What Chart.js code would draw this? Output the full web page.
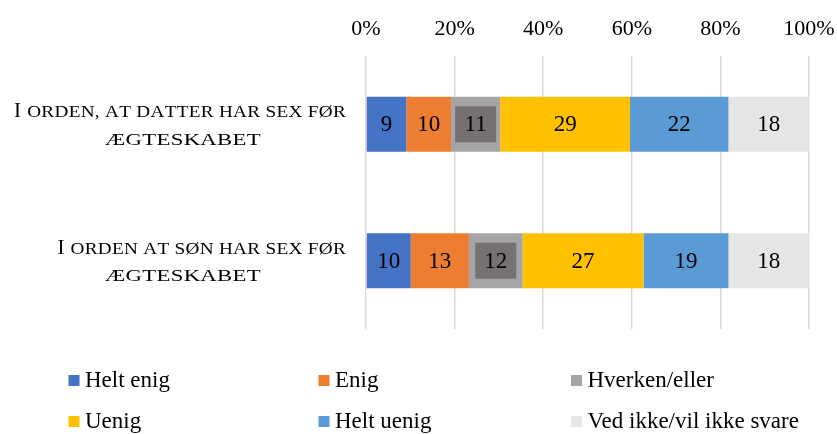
<!DOCTYPE html>
<html>
<head>
<meta charset="utf-8">
<script src="https://cdn.jsdelivr.net/npm/chart.js@4/dist/chart.umd.min.js"></script>
<style>
html,body{margin:0;padding:0;background:#fff;}
#wrap{width:837px;height:434px;}
</style>
</head>
<body>
<div id="wrap"><canvas id="c" width="837" height="434"></canvas></div>
<script>
const categories = [
  ["I orden, at datter har sex før", "ægteskabet"],
  ["I orden at søn har sex før", "ægteskabet"]
];
const seriesNames = ["Helt enig", "Enig", "Hverken/eller", "Uenig", "Helt uenig", "Ved ikke/vil ikke svare"];
const helt_enig   = [9, 10];
const enig        = [10, 13];
const hverken     = [11, 12];
const uenig       = [29, 27];
const helt_uenig  = [22, 19];
const ved_ikke    = [18, 18];
const tickLabels  = ["0%", "20%", "40%", "60%", "80%", "100%"];

const colors = ["#4472C4", "#ED7D31", "#A5A5A5", "#FFC000", "#5B9BD5", "#E7E6E6"];
const raw = [helt_enig, enig, hverken, uenig, helt_uenig, ved_ikke];
const totals = categories.map((_, i) => raw.reduce((s, a) => s + a[i], 0));

const FONT = "'Liberation Serif', 'Times New Roman', serif";

const datasets = raw.map((arr, k) => ({
  label: seriesNames[k],
  data: arr.map((v, i) => v / totals[i] * 100),
  rawValues: arr,
  backgroundColor: colors[k],
  borderWidth: 0,
  categoryPercentage: 1,
  barPercentage: 0.403,
  labelBox: k === 2 ? "#767171" : null
}));

// Synthetic small caps (lowercase drawn as smaller, slightly widened capitals)
function smallCapsRuns(ctx, text, big, small, sx) {
  const runs = [];
  let w = 0;
  for (const ch of text) {
    const isUpper = ch !== ch.toLowerCase() && ch === ch.toUpperCase();
    const size = isUpper ? big : small;
    const g = isUpper ? ch : ch.toUpperCase();
    const scale = isUpper ? 1 : sx;
    ctx.font = size + "px " + FONT;
    const cw = ctx.measureText(g).width * scale;
    runs.push({ g, size, x: w, scale });
    w += cw + (isUpper ? 1 : 0.3);
  }
  return { runs, width: w };
}
function drawSmallCaps(ctx, text, xAnchor, align, baseY, big, small, sx) {
  const { runs, width } = smallCapsRuns(ctx, text, big, small, sx);
  const x0 = align === 'right' ? xAnchor - width : align === 'center' ? xAnchor - width / 2 : xAnchor;
  ctx.textAlign = 'left';
  ctx.textBaseline = 'alphabetic';
  for (const r of runs) {
    ctx.save();
    ctx.font = r.size + "px " + FONT;
    ctx.translate(x0 + r.x, baseY);
    ctx.scale(r.scale, 1);
    ctx.fillText(r.g, 0, 0);
    ctx.restore();
  }
}

const yLabels = {
  id: 'yLabels',
  afterDraw(chart) {
    const ctx = chart.ctx;
    const ys = chart.scales.y;
    ctx.save();
    ctx.fillStyle = '#000';
    chart.data.labels.forEach((lab, i) => {
      const cy = ys.getPixelForTick(i);
      drawSmallCaps(ctx, lab[0], 346, 'right', cy - 7, 21, 16, 1.2);
      drawSmallCaps(ctx, lab[1], 183, 'center', cy + 20.5, 21, 17.5, 1.3);
    });
    ctx.restore();
  }
};

const barLabels = {
  id: 'barLabels',
  afterDatasetsDraw(chart) {
    const ctx = chart.ctx;
    ctx.save();
    ctx.font = "23px " + FONT;
    ctx.textAlign = 'center';
    ctx.textBaseline = 'middle';
    chart.data.datasets.forEach((ds, di) => {
      const meta = chart.getDatasetMeta(di);
      meta.data.forEach((el, i) => {
        const cx = (el.x + el.base) / 2;
        const cy = el.y;
        if (ds.labelBox) {
          ctx.fillStyle = ds.labelBox;
          ctx.fillRect(cx - 20.5, cy - 18, 41, 36);
        }
        ctx.fillStyle = '#000';
        ctx.fillText(String(ds.rawValues[i]), cx, cy + 1);
      });
    });
    ctx.restore();
  }
};

const gridLegend = {
  id: 'gridLegend',
  afterDraw(chart) {
    const ctx = chart.ctx;
    ctx.save();
    ctx.font = "23px " + FONT;
    ctx.textAlign = 'left';
    ctx.textBaseline = 'middle';
    const colX = [68.5, 318.5, 571];
    const rowY = [380.5, 421.5];
    chart.data.datasets.forEach((ds, i) => {
      const x = colX[i % 3], y = rowY[Math.floor(i / 3)];
      ctx.fillStyle = ds.backgroundColor;
      ctx.fillRect(x, y - 5.5, 11, 11);
      ctx.fillStyle = '#000';
      ctx.fillText(ds.label, x + 16.5, y);
    });
    ctx.restore();
  }
};

new Chart(document.getElementById('c'), {
  type: 'bar',
  data: { labels: categories, datasets },
  options: {
    indexAxis: 'y',
    responsive: false,
    animation: false,
    devicePixelRatio: 1,
    layout: { padding: { left: 0, right: 28, top: 0, bottom: 105 } },
    plugins: { legend: { display: false }, tooltip: { enabled: false } },
    scales: {
      x: {
        position: 'top',
        stacked: true,
        min: 0, max: 100,
        afterFit(s) { s.height = 56; s.paddingLeft = 0; s.paddingRight = 0; },
        ticks: {
          stepSize: 20,
          padding: 14,
          color: '#000',
          font: { family: FONT, size: 22 },
          callback: (v, i) => tickLabels[i]
        },
        grid: { color: '#D9D9D9', lineWidth: 1.5, drawTicks: false },
        border: { display: false }
      },
      y: {
        stacked: true,
        afterFit(s) { s.width = 366; },
        ticks: { display: false },
        grid: { display: false, drawTicks: false },
        border: { display: false }
      }
    }
  },
  plugins: [barLabels, yLabels, gridLegend]
});
</script>
</body>
</html>
